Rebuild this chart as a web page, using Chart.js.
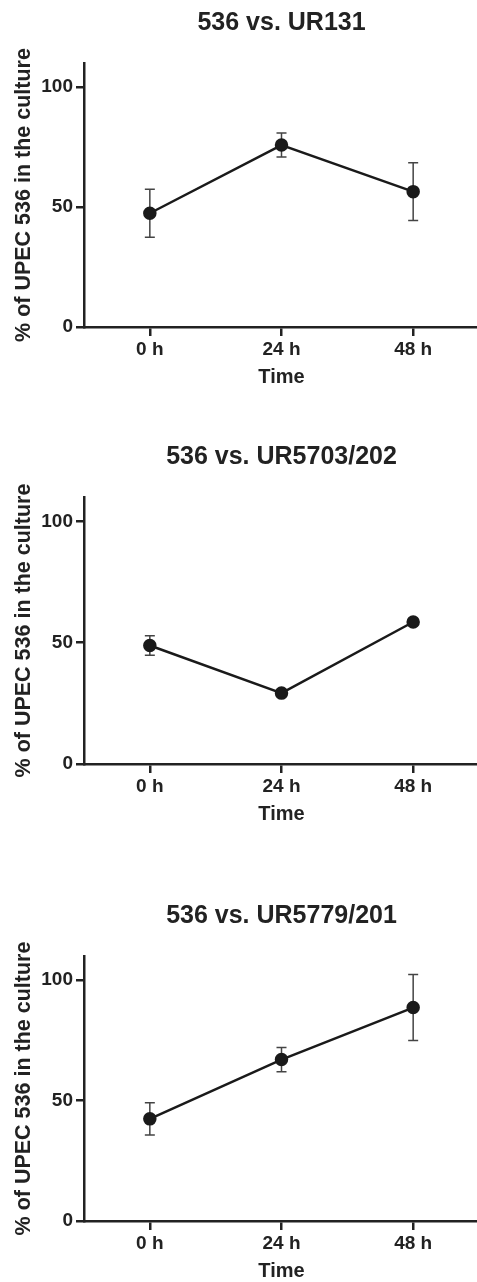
<!DOCTYPE html>
<html>
<head>
    <meta charset="UTF-8">
    <title>536 competition</title>
    <script src="https://cdn.jsdelivr.net/npm/chart.js@4.4.0/dist/chart.umd.min.js"></script>
    <style>
        * { margin: 0; padding: 0; box-sizing: border-box; }
        body {
            width: 477px;
            height: 1282px;
            overflow: hidden;
            background: #fff;
            position: relative;
        }
        .panel { position: absolute; left: 0; width: 487px; }
    </style>
</head>
<body>
    <div class="panel" style="top:0;height:389px"><canvas id="c1"></canvas></div>
    <div class="panel" style="top:434px;height:392px"><canvas id="c2"></canvas></div>
    <div class="panel" style="top:893px;height:390px"><canvas id="c3"></canvas></div>

    <script>
        const timeLabels = ['0 h', '24 h', '48 h'];
        const yTicks = [0, 50, 100];

        const ur131Mean = [47.4, 75.8, 56.4];
        const ur131Err = [10, 5, 12];
        const ur5703Mean = [48.8, 29.2, 58.5];
        const ur5703Err = [4, 1, 1];
        const ur5779Mean = [42.4, 67.0, 88.6];
        const ur5779Err = [6.7, 5, 13.7];

        const FONT = '"Liberation Sans", Arial, sans-serif';
        const INK = '#222';

        // whiskers drawn under the line + markers
        const errorBars = {
            id: 'errorBars',
            beforeDatasetsDraw(chart) {
                const ctx = chart.ctx;
                const y = chart.scales.y;
                const ds = chart.data.datasets[0];
                const meta = chart.getDatasetMeta(0);
                ctx.save();
                ctx.strokeStyle = '#444';
                ctx.lineWidth = 1.5;
                meta.data.forEach((pt, i) => {
                    const e = ds.errors[i];
                    if (!e) return;
                    const top = y.getPixelForValue(ds.data[i] + e);
                    const bot = y.getPixelForValue(ds.data[i] - e);
                    ctx.beginPath();
                    ctx.moveTo(pt.x, top); ctx.lineTo(pt.x, bot);
                    ctx.moveTo(pt.x - 5, top); ctx.lineTo(pt.x + 5, top);
                    ctx.moveTo(pt.x - 5, bot); ctx.lineTo(pt.x + 5, bot);
                    ctx.stroke();
                });
                ctx.restore();
            }
        };

        function makeChart(id, title, means, errs) {
            return new Chart(document.getElementById(id), {
                type: 'line',
                data: {
                    labels: timeLabels,
                    datasets: [{
                        data: means,
                        errors: errs,
                        xAxisID: 'x',
                        yAxisID: 'y',
                        borderColor: '#1a1a1a',
                        borderWidth: 2.5,
                        pointRadius: 5.5,
                        pointBackgroundColor: '#1a1a1a',
                        pointBorderColor: '#1a1a1a',
                        tension: 0
                    }]
                },
                options: {
                    responsive: true,
                    maintainAspectRatio: false,
                    animation: false,
                    layout: { padding: 0 },
                    plugins: {
                        legend: { display: false },
                        tooltip: { enabled: false }
                    },
                    scales: {
                        x: {
                            type: 'category',
                            offset: true,
                            afterFit: s => { s.height = 62; },
                            grid: {
                                offset: false,
                                drawOnChartArea: false,
                                drawTicks: true,
                                tickLength: 9,
                                color: INK,
                                lineWidth: 2.5
                            },
                            border: { display: true, color: INK, width: 2.5 },
                            ticks: {
                                color: INK,
                                padding: 2,
                                font: { family: FONT, size: 19, weight: 'bold' }
                            },
                            title: {
                                display: true,
                                text: 'Time',
                                color: INK,
                                padding: { top: 0, bottom: 0 },
                                font: { family: FONT, size: 20, weight: 'bold' }
                            }
                        },
                        // top axis only carries the panel title, centred over the plot
                        top: {
                            type: 'category',
                            position: 'top',
                            offset: true,
                            afterFit: s => { s.height = 63; },
                            grid: { display: false },
                            border: { display: false },
                            ticks: { display: false },
                            title: {
                                display: true,
                                text: title,
                                color: INK,
                                padding: { top: 8, bottom: 0 },
                                font: { family: FONT, size: 25, weight: 'bold' }
                            }
                        },
                        y: {
                            min: 0,
                            max: 110,
                            afterFit: s => { s.width = 84; },
                            afterBuildTicks: s => { s.ticks = yTicks.map(v => ({ value: v })); },
                            grid: {
                                drawOnChartArea: false,
                                drawTicks: true,
                                tickLength: 8,
                                color: INK,
                                lineWidth: 2.5
                            },
                            border: { display: true, color: INK, width: 2.5 },
                            ticks: {
                                color: INK,
                                padding: 3,
                                font: { family: FONT, size: 19, weight: 'bold' }
                            },
                            title: {
                                display: true,
                                text: '% of UPEC 536 in the culture',
                                color: INK,
                                padding: { top: 11, bottom: 0 },
                                font: { family: FONT, size: 21.5, weight: 'bold' }
                            }
                        }
                    }
                },
                plugins: [errorBars]
            });
        }

        makeChart('c1', '536 vs. UR131', ur131Mean, ur131Err);
        makeChart('c2', '536 vs. UR5703/202', ur5703Mean, ur5703Err);
        makeChart('c3', '536 vs. UR5779/201', ur5779Mean, ur5779Err);
    </script>
</body>
</html>
